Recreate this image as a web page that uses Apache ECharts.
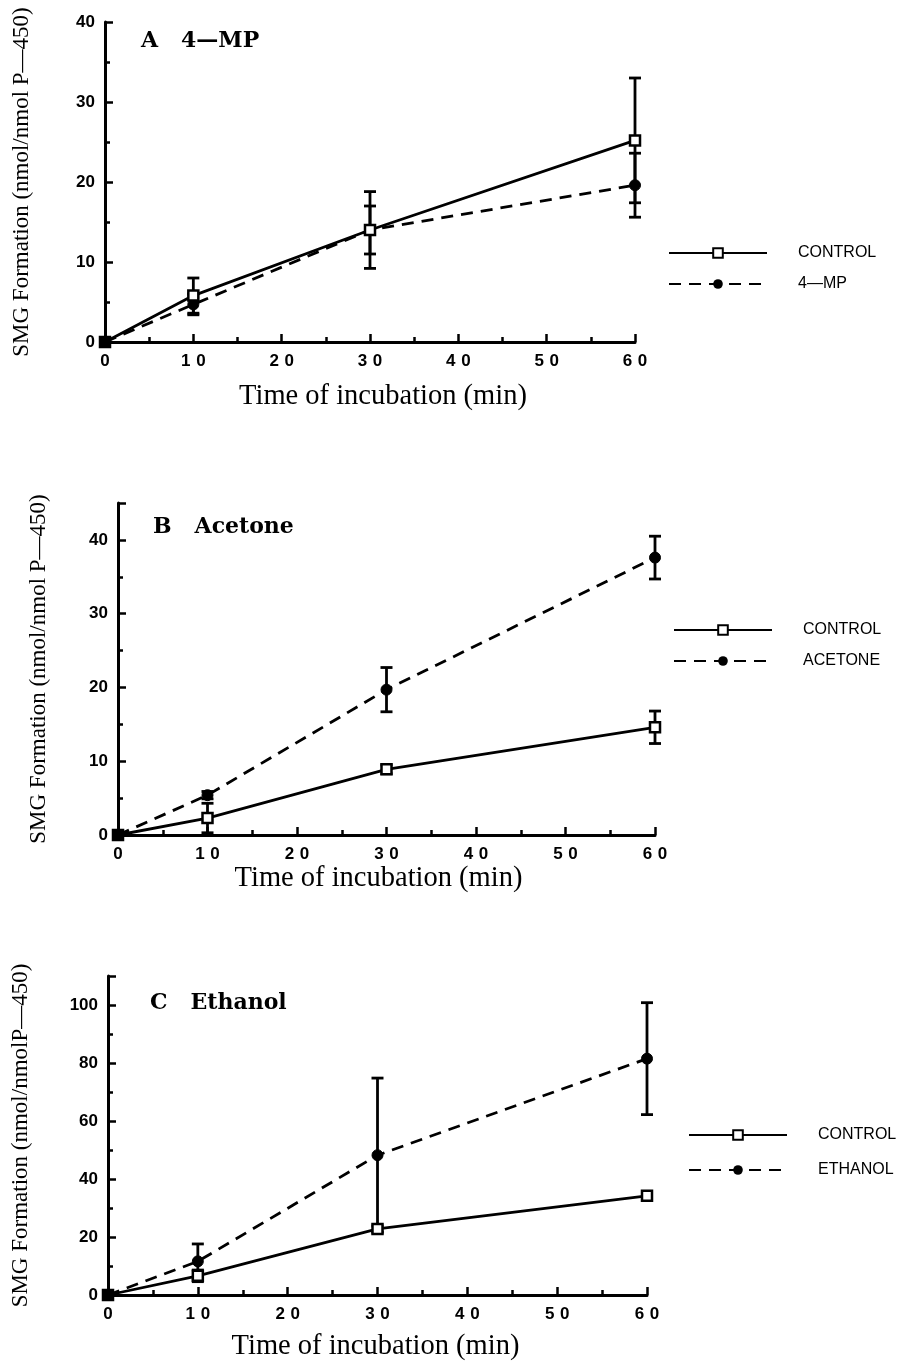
<!DOCTYPE html>
<html>
<head>
<meta charset="utf-8">
<script src="https://cdn.jsdelivr.net/npm/echarts@6/dist/echarts.min.js"></script>
<style>
  html, body { margin: 0; padding: 0; background: #fff; }
  #chart { width: 920px; height: 1362px; }
</style>
</head>
<body>
<div id="chart"></div>
<script>
// Incubation times (min)
const times = [0, 10, 30, 60];

// Panel A: 4-MP pretreatment
const aControl = [0, 5.8, 14.0, 25.2];
const aControlErr = [0, 2.2, 4.8, 7.8];
const aMP = [0, 4.7, 14.0, 19.6];
const aMPErr = [0, 1.3, 3.0, 4.0];

// Panel B: acetone pretreatment
const bControl = [0, 2.3, 8.9, 14.6];
const bControlErr = [0, 2.0, 0.6, 2.2];
const bAcetone = [0, 5.4, 19.7, 37.6];
const bAcetoneErr = [0, 0.5, 3.0, 2.9];

// Panel C: ethanol pretreatment
const cControl = [0, 6.6, 22.8, 34.2];
const cControlErr = [0, 2.0, 1.0, 1.5];
const cEthanol = [0, 11.6, 48.2, 81.5];
const cEthanolErr = [0, 6.0, 26.6, 19.3];

const panelTitles = ['A   4\u2014MP', 'B   Acetone', 'C   Ethanol'];
const treatmentNames = ['4\u2014MP', 'ACETONE', 'ETHANOL'];
const yMax = [40, 45, 110];
const yInterval = [10, 10, 20];
const yLabel = ['SMG Formation (nmol/nmol P\u2014450)', 'SMG Formation (nmol/nmol P\u2014450)', 'SMG Formation (nmol/nmolP\u2014450)'];
const xLabel = 'Time of incubation (min)';

const panels = [
  { ctrl: aControl, ctrlErr: aControlErr, trt: aMP, trtErr: aMPErr },
  { ctrl: bControl, ctrlErr: bControlErr, trt: bAcetone, trtErr: bAcetoneErr },
  { ctrl: cControl, ctrlErr: cControlErr, trt: cEthanol, trtErr: cEthanolErr }
];

// layout of the three stacked plots
const grids = [
  { left: 105, right: 285, top: 22, bottom: 1020 },
  { left: 118, right: 265, top: 503, bottom: 527 },
  { left: 108, right: 273, top: 976, bottom: 65 }
];
const xNameGap = [40, 28, 37];
const xNamePad = [[0, 0, 0, 26], [0, 16, 0, 0], [0, 4, 0, 0]];
const yNameGap = [72, 68, 76];
const titlePos = [[141, 30], [153, 516], [150, 992]];
const legendPos = [[663, 240], [668, 617], [683, 1122]];
const legendGap = [15, 15, 19];

const serifFont = '"Liberation Serif", "Times New Roman", serif';
const titleFont = '"DejaVu Serif", "Liberation Serif", serif';
const sansFont = '"Liberation Sans", Arial, sans-serif';
const spaced = v => String(v).split('').join('\u2004');

function axisCommon() {
  return {
    axisLine: { show: true, onZero: false, lineStyle: { color: '#000', width: 3 } },
    axisTick: { show: true, inside: true, length: 8, lineStyle: { color: '#000', width: 2.5 } },
    minorTick: { show: true, splitNumber: 2, length: 5, lineStyle: { color: '#000', width: 2.5 } },
    splitLine: { show: false },
    minorSplitLine: { show: false }
  };
}

function errorSeries(idx, vals, errs) {
  return {
    type: 'custom',
    xAxisIndex: idx,
    yAxisIndex: idx,
    silent: true,
    z: 1,
    encode: { x: 0, y: [1, 2] },
    data: times.map((t, i) => [t, vals[i] - errs[i], vals[i] + errs[i]]),
    renderItem: function (params, api) {
      const x = api.value(0), lo = api.value(1), hi = api.value(2);
      if (hi - lo <= 0) return null;
      const pLo = api.coord([x, lo]);
      const pHi = api.coord([x, hi]);
      const w = 6;
      const st = { stroke: '#000', lineWidth: 2.8 };
      return {
        type: 'group',
        children: [
          { type: 'line', shape: { x1: pLo[0], y1: pLo[1], x2: pHi[0], y2: pHi[1] }, style: st },
          { type: 'line', shape: { x1: pHi[0] - w, y1: pHi[1], x2: pHi[0] + w, y2: pHi[1] }, style: st },
          { type: 'line', shape: { x1: pLo[0] - w, y1: pLo[1], x2: pLo[0] + w, y2: pLo[1] }, style: st }
        ]
      };
    }
  };
}

function pointData(vals) {
  return times.map((t, i) => t === 0
    ? { value: [t, vals[i]], symbol: 'rect', symbolSize: 10, itemStyle: { color: '#000', borderColor: '#000' } }
    : { value: [t, vals[i]] });
}

const option = {
  backgroundColor: '#fff',
  animation: false,
  grid: grids,
  xAxis: grids.map((g, i) => Object.assign(axisCommon(), {
    type: 'value', gridIndex: i, min: 0, max: 60, interval: 10,
    name: xLabel, nameLocation: 'middle', nameGap: xNameGap[i],
    nameTextStyle: { fontFamily: serifFont, fontSize: 28.5, color: '#000', padding: xNamePad[i] },
    axisLabel: { color: '#000', fontFamily: sansFont, fontWeight: 'bold', fontSize: 17, margin: 11, formatter: v => spaced(v) }
  })),
  yAxis: grids.map((g, i) => Object.assign(axisCommon(), {
    type: 'value', gridIndex: i, min: 0, max: yMax[i], interval: yInterval[i],
    name: yLabel[i], nameLocation: 'middle', nameGap: yNameGap[i],
    nameTextStyle: { fontFamily: serifFont, fontSize: 23, color: '#000' },
    axisLabel: { color: '#000', fontFamily: sansFont, fontWeight: 'bold', fontSize: 17, margin: 10,
      formatter: v => (v % yInterval[i] === 0 ? String(v) : '') }
  })),
  legend: panels.map((p, i) => ({
    left: legendPos[i][0], top: legendPos[i][1], orient: 'vertical',
    itemWidth: 98, itemHeight: 12, itemGap: legendGap[i],
    data: ['CONTROL', treatmentNames[i]],
    textStyle: { fontFamily: sansFont, fontSize: 16, color: '#000', padding: [0, 0, 0, 26] },
    selectedMode: false
  })),
  graphic: panelTitles.map((t, i) => ({
    type: 'text', left: titlePos[i][0], top: titlePos[i][1],
    style: { text: t, font: 'bold 22px ' + titleFont, fill: '#000' }
  })),
  series: []
};

panels.forEach((p, i) => {
  option.series.push(errorSeries(i, p.ctrl, p.ctrlErr));
  option.series.push(errorSeries(i, p.trt, p.trtErr));
  option.series.push({
    name: 'CONTROL', type: 'line', xAxisIndex: i, yAxisIndex: i, z: 3,
    symbol: 'rect', symbolSize: 10, showAllSymbol: true,
    lineStyle: { color: '#000', width: 2.8, type: 'solid' },
    itemStyle: { color: '#fff', borderColor: '#000', borderWidth: 2.5 },
    data: pointData(p.ctrl)
  });
  option.series.push({
    name: treatmentNames[i], type: 'line', xAxisIndex: i, yAxisIndex: i, z: 2,
    symbol: 'circle', symbolSize: 11, showAllSymbol: true,
    lineStyle: { color: '#000', width: 2.8, type: [12, 8] },
    itemStyle: { color: '#000', borderColor: '#000' },
    data: pointData(p.trt)
  });
});

const chart = echarts.init(document.getElementById('chart'), null, { renderer: 'canvas' });
chart.setOption(option);
</script>
</body>
</html>
